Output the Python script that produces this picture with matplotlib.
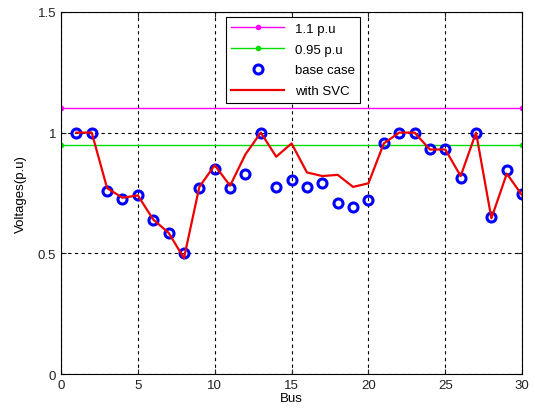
import matplotlib
matplotlib.use("Agg")
import matplotlib.pyplot as plt

plt.rcParams['font.family'] = ['Liberation Sans', 'DejaVu Sans']

# datos
bus = list(range(1, 31))
base_case = [1.0, 1.0, 0.76, 0.725, 0.74, 0.64, 0.585, 0.50, 0.77, 0.85,
             0.77, 0.83, 1.0, 0.775, 0.805, 0.775, 0.79, 0.71, 0.69, 0.72,
             0.955, 1.0, 1.0, 0.93, 0.93, 0.81, 1.0, 0.65, 0.845, 0.745]
with_svc = [1.0, 1.0, 0.77, 0.73, 0.74, 0.64, 0.585, 0.48, 0.775, 0.865,
            0.78, 0.91, 1.0, 0.90, 0.955, 0.835, 0.82, 0.825, 0.775, 0.79,
            0.955, 1.0, 1.0, 0.93, 0.93, 0.82, 1.0, 0.645, 0.83, 0.74]
limite_x = [0, 30]
limite_sup = [1.1, 1.1]
limite_inf = [0.95, 0.95]

fig = plt.figure(figsize=(5.35, 4.14), dpi=100)
ax = fig.add_axes([0.114, 0.094, 0.862, 0.875])

ax.plot(limite_x, limite_sup, color='#ff00ff', lw=1, marker='.', ms=6, label='1.1 p.u')
ax.plot(limite_x, limite_inf, color='#00dd00', lw=1, marker='.', ms=6, label='0.95 p.u')
ax.plot(bus, base_case, ls='none', marker='o', ms=6.5, mfc='none', mec='#0000ff',
        mew=2.2, label='base case')
ax.plot(bus, with_svc, color='#ee0000', lw=1.6, label='with SVC')

ax.set_xlim(0, 30)
ax.set_ylim(0, 1.5)
ax.set_xticks([0, 5, 10, 15, 20, 25, 30])
ax.set_yticks([0, 0.5, 1, 1.5])
ax.set_yticklabels(['0', '0.5', '1', '1.5'])
ax.tick_params(direction='in', labelsize=9.5, colors='#222222', top=True, right=True)
ax.grid(True, color='black', ls=(0, (3, 3)), lw=0.8)
ax.set_xlabel('Bus', fontsize=9.5, labelpad=1)
ax.set_ylabel('Voltages(p.u)', fontsize=9.5, labelpad=8)

leg = ax.legend(loc='upper center', bbox_to_anchor=(0.503, 1.003), numpoints=1,
                fancybox=False, edgecolor='black', fontsize=9.5, framealpha=1,
                borderpad=0.4, labelspacing=0.65, handlelength=4.0)
leg.get_frame().set_linewidth(0.8)

fig.savefig('out.png', dpi=100)
